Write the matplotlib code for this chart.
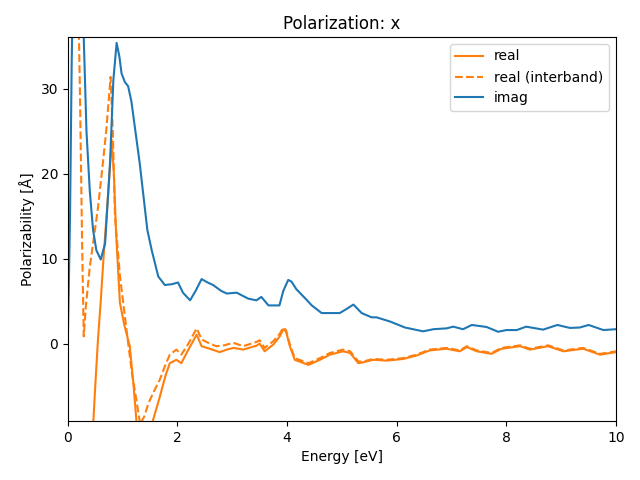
import matplotlib
matplotlib.use("Agg")
import matplotlib.pyplot as plt
import numpy as np

# imaginary part
e_imag = [0, 0.04, 0.07, 0.1, 0.15, 0.2, 0.25, 0.29, 0.34, 0.4, 0.46, 0.52, 0.6, 0.68, 0.77,
          0.83, 0.89, 0.94, 0.98, 1.04, 1.1, 1.16, 1.22, 1.31, 1.45, 1.53, 1.65, 1.77, 1.9, 2.01, 2.1,
          2.23, 2.33, 2.44, 2.55, 2.65, 2.8, 2.9, 3.08, 3.29, 3.44, 3.53, 3.66, 3.86, 3.93, 4.02,
          4.08, 4.17, 4.32, 4.45, 4.63, 4.96, 5.09, 5.21, 5.36, 5.54, 5.63, 5.88, 6.15, 6.48, 6.67,
          6.91, 7.03, 7.21, 7.37, 7.64, 7.85, 8.0, 8.19, 8.36, 8.67, 8.93, 9.16, 9.34, 9.5, 9.77, 10]
imag = [0.5, 15, 33, 45, 52, 50, 42, 36, 25, 18, 13.4, 11, 9.9, 11.8, 21.3,
        31, 35.4, 33.8, 31.8, 30.8, 30.3, 28.5, 25.6, 21.3, 13.4, 11, 7.9, 6.9, 7.0, 7.2, 6.0,
        5.1, 6.2, 7.6, 7.2, 6.9, 6.2, 5.9, 6.0, 5.3, 5.1, 5.5, 4.5, 4.5, 6.2, 7.5,
        7.3, 6.4, 5.4, 4.5, 3.6, 3.6, 4.1, 4.6, 3.6, 3.1, 3.1, 2.6, 1.9, 1.45, 1.7,
        1.8, 2.0, 1.7, 2.2, 1.96, 1.4, 1.6, 1.6, 2.0, 1.65, 2.2, 1.85, 1.9, 2.2, 1.6, 1.7]

# real part
e_real = [0.3, 0.4, 0.45, 0.5, 0.55, 0.6, 0.65, 0.7, 0.75, 0.8, 0.84, 0.88, 0.95, 1.03, 1.13,
          1.2, 1.25, 1.3, 1.38, 1.45, 1.55, 1.68, 1.78, 1.86, 1.98, 2.07, 2.2, 2.35, 2.44, 2.59,
          2.77, 2.9, 3.02, 3.2, 3.44, 3.5, 3.59, 3.75, 3.87, 3.93, 3.98, 4.05, 4.14, 4.39, 4.6,
          4.78, 5.02, 5.15, 5.3, 5.39, 5.57, 5.82, 6.12, 6.36, 6.6, 6.91, 7.15, 7.28, 7.46, 7.73,
          7.91, 8.25, 8.43, 8.76, 9.04, 9.4, 9.71, 10]
real = [-40, -18, -11, -5, 0.5, 5, 10, 14.5, 19, 24, 20, 13, 4.8, 2.2, -0.3,
        -5, -9, -11, -11.5, -10.5, -9.1, -6.2, -3.8, -2.3, -1.9, -2.3, -0.7, 1.06, -0.3, -0.6,
        -1.0, -0.7, -0.5, -0.7, -0.24, 0, -0.9, -0.1, 0.9, 1.7, 1.45, -0.3, -1.9, -2.5, -1.9,
        -1.3, -0.9, -1.1, -2.3, -2.2, -1.9, -2.0, -1.8, -1.4, -0.8, -0.6, -0.9, -0.4, -0.9, -1.2,
        -0.6, -0.3, -0.7, -0.3, -0.9, -0.6, -1.3, -1.0]

# real part, interband only
e_inter = [0, 0.1, 0.18, 0.22, 0.26, 0.29, 0.33, 0.4, 0.46, 0.55, 0.64, 0.7, 0.75, 0.78, 0.82,
           0.86, 0.95, 1.07, 1.17, 1.25, 1.32, 1.4, 1.47, 1.58, 1.68, 1.78, 1.86, 1.98, 2.07, 2.2,
           2.35, 2.44, 2.59, 2.71, 2.85, 3.02, 3.2, 3.44, 3.5, 3.59, 3.75, 3.87, 3.93, 3.98, 4.05,
           4.14, 4.39, 4.6, 4.78, 5.02, 5.15, 5.3, 5.39, 5.57, 5.82, 6.12, 6.36, 6.6, 6.91, 7.15,
           7.28, 7.46, 7.73, 7.91, 8.25, 8.43, 8.76, 9.04, 9.4, 9.71, 10]
real_inter = [90, 70, 44, 30, 12, 0.86, 4.5, 9, 11.8, 16, 21.3, 25, 29, 31.4, 25,
              15, 8, 1.65, -3.5, -6.6, -9.5, -8.5, -7, -5.5, -4.2, -2.5, -1.3, -0.7, -1.3, 0,
              1.8, 0.5, 0, -0.3, -0.2, 0.1, -0.3, 0.2, 0.4, -0.5, 0.3, 1.2, 1.9, 1.6, -0.1,
              -1.7, -2.3, -1.7, -1.1, -0.7, -0.9, -2.1, -2.1, -1.8, -1.9, -1.7, -1.3, -0.7, -0.5, -0.8,
              -0.3, -0.8, -1.1, -0.5, -0.2, -0.6, -0.2, -0.8, -0.5, -1.2, -0.9]

fig, ax = plt.subplots(figsize=(6.4, 4.8), dpi=100)
ax.plot(e_real, real, color='C1', label='real')
ax.plot(e_inter, real_inter, color='C1', ls='--', label='real (interband)')
ax.plot(e_imag, imag, color='C0', label='imag')
ax.set_xlim(0, 10)
ax.set_ylim(-9.1, 36.1)
ax.set_title('Polarization: x')
ax.set_xlabel('Energy [eV]')
ax.set_ylabel('Polarizability [Å]')
ax.legend(loc='upper right')
fig.subplots_adjust(left=0.106, right=0.9625, top=0.923, bottom=0.123)
fig.savefig('out.png')
